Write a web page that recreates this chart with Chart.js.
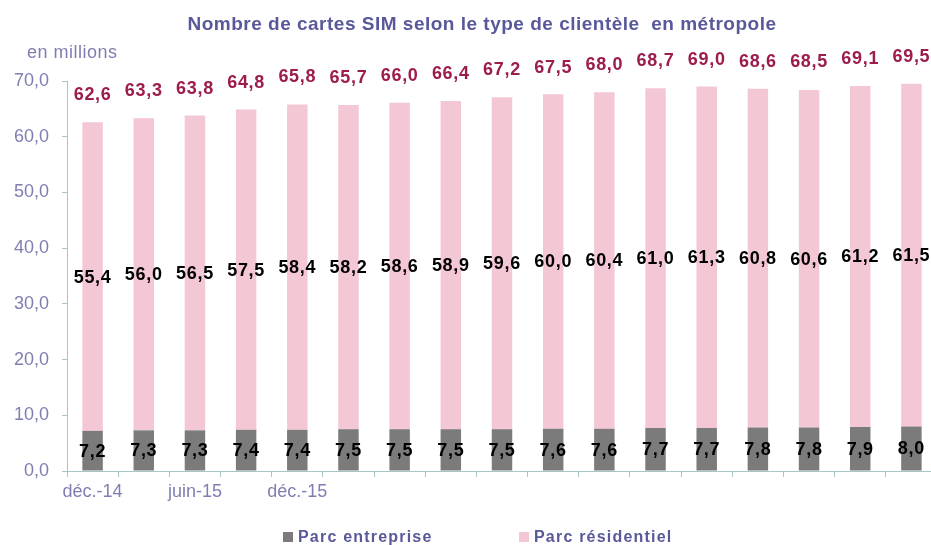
<!DOCTYPE html>
<html lang="fr">
<head>
<meta charset="utf-8">
<title>Nombre de cartes SIM selon le type de clientèle en métropole</title>
<script src="https://cdn.jsdelivr.net/npm/chart.js@4.4.1/dist/chart.umd.min.js"></script>
<style>
    html, body { margin: 0; padding: 0; background: #ffffff; overflow: hidden; }
    .wrap { width: 940px; height: 545px; }
</style>
</head>
<body>
<div class="wrap"><canvas id="simChart" width="940" height="545"></canvas></div>
<script>
(function () {
    'use strict';

    // Quarters (only some of them get an axis label, like the source)
    var QUARTERS = ['déc.-14', 'mars-15', 'juin-15', 'sept.-15', 'déc.-15', 'mars-16', 'juin-16', 'sept.-16',
        'déc.-16', 'mars-17', 'juin-17', 'sept.-17', 'déc.-17', 'mars-18', 'juin-18', 'sept.-18', 'déc.-18'];
    var SHOWN_LABELS = ['déc.-14', 'juin-15', 'déc.-15'];

    // en millions
    var ENTREPRISE = [7.2, 7.3, 7.3, 7.4, 7.4, 7.5, 7.5, 7.5, 7.5, 7.6, 7.6, 7.7, 7.7, 7.8, 7.8, 7.9, 8.0];
    var RESIDENTIEL = [55.4, 56.0, 56.5, 57.5, 58.4, 58.2, 58.6, 58.9, 59.6, 60.0, 60.4, 61.0, 61.3, 60.8, 60.6, 61.2, 61.5];
    var TOTAL = [62.6, 63.3, 63.8, 64.8, 65.8, 65.7, 66.0, 66.4, 67.2, 67.5, 68.0, 68.7, 69.0, 68.6, 68.5, 69.1, 69.5];

    var Y_MIN = 0;
    var Y_MAX = 70;
    var Y_STEP = 10;

    var FONT = '"Liberation Sans", Arial, sans-serif';
    var AXIS_TEXT = '#7e7eb2';
    var TITLE_TEXT = '#58589a';
    var AXIS_LINE = '#a9c6c6';

    function fr(v) {
        return Number(v).toFixed(1).replace('.', ',');
    }

    // value labels inside segments + totals above bars
    var valueLabels = {
        id: 'valueLabels',
        afterDatasetsDraw: function (chart) {
            var ctx = chart.ctx;
            ctx.save();
            ctx.textAlign = 'center';
            ctx.textBaseline = 'middle';
            ctx.font = 'bold 18px ' + FONT;
            ctx.letterSpacing = '0.7px';
            ctx.fillStyle = '#000000';
            chart.data.datasets.forEach(function (ds, di) {
                var meta = chart.getDatasetMeta(di);
                meta.data.forEach(function (bar, i) {
                    ctx.fillText(fr(ds.data[i]), bar.x, (bar.y + bar.base) / 2 + 1);
                });
            });
            var top = chart.getDatasetMeta(chart.data.datasets.length - 1);
            ctx.fillStyle = '#9d1c4e';
            top.data.forEach(function (bar, i) {
                ctx.fillText(fr(TOTAL[i]), bar.x, chart.scales.y.getPixelForValue(TOTAL[i]) - 27);
            });
            ctx.restore();
        }
    };

    // title, unit and legend
    var decorations = {
        id: 'decorations',
        afterDraw: function (chart) {
            var ctx = chart.ctx;
            ctx.save();
            ctx.textBaseline = 'alphabetic';
            ctx.textAlign = 'center';
            ctx.fillStyle = TITLE_TEXT;
            ctx.font = 'bold 19px ' + FONT;
            ctx.letterSpacing = '0.5px';
            ctx.fillText('Nombre de cartes SIM selon le type de clientèle  en métropole', 482, 30);

            ctx.textAlign = 'left';
            ctx.fillStyle = AXIS_TEXT;
            ctx.font = '18px ' + FONT;
            ctx.letterSpacing = '0.5px';
            ctx.fillText('en millions', 27, 58);

            var legendX = [283, 519];
            ctx.font = 'bold 16px ' + FONT;
            ctx.letterSpacing = '1.2px';
            ctx.textBaseline = 'middle';
            chart.data.datasets.forEach(function (ds, di) {
                ctx.fillStyle = ds.backgroundColor;
                ctx.fillRect(legendX[di], 532, 10, 10);
                ctx.fillStyle = TITLE_TEXT;
                ctx.fillText(ds.label, legendX[di] + 15, 538);
            });
            ctx.restore();
        }
    };

    Chart.defaults.font.family = FONT;

    new Chart(document.getElementById('simChart').getContext('2d'), {
        type: 'bar',
        data: {
            labels: QUARTERS,
            datasets: [{
                label: 'Parc entreprise',
                data: ENTREPRISE,
                backgroundColor: '#7b7b7b',
                categoryPercentage: 1,
                barPercentage: 0.4
            }, {
                label: 'Parc résidentiel',
                data: RESIDENTIEL,
                backgroundColor: '#f4c7d5',
                categoryPercentage: 1,
                barPercentage: 0.4
            }]
        },
        options: {
            responsive: false,
            animation: false,
            layout: { padding: { left: 0, right: 3, top: 81, bottom: 34 } },
            plugins: {
                legend: { display: false },
                title: { display: false },
                tooltip: { enabled: false }
            },
            scales: {
                x: {
                    stacked: true,
                    afterFit: function (scale) { scale.height = 40; },
                    border: { color: AXIS_LINE, width: 1 },
                    grid: { drawOnChartArea: false, drawTicks: true, tickLength: 6, color: AXIS_LINE, offset: true },
                    ticks: {
                        autoSkip: false,
                        maxRotation: 0,
                        padding: 4,
                        color: AXIS_TEXT,
                        font: { size: 18 },
                        callback: function (v, i) {
                            var q = QUARTERS[i];
                            return SHOWN_LABELS.indexOf(q) !== -1 ? q : '';
                        }
                    }
                },
                y: {
                    stacked: true,
                    min: Y_MIN,
                    max: Y_MAX,
                    afterFit: function (scale) { scale.width = 67; },
                    border: { color: AXIS_LINE, width: 1 },
                    grid: { drawOnChartArea: false, drawTicks: true, tickLength: 5, color: AXIS_LINE },
                    ticks: {
                        stepSize: Y_STEP,
                        padding: 13,
                        color: AXIS_TEXT,
                        font: { size: 18 },
                        callback: function (v) { return fr(v); }
                    }
                }
            }
        },
        plugins: [valueLabels, decorations]
    });
})();
</script>
</body>
</html>
